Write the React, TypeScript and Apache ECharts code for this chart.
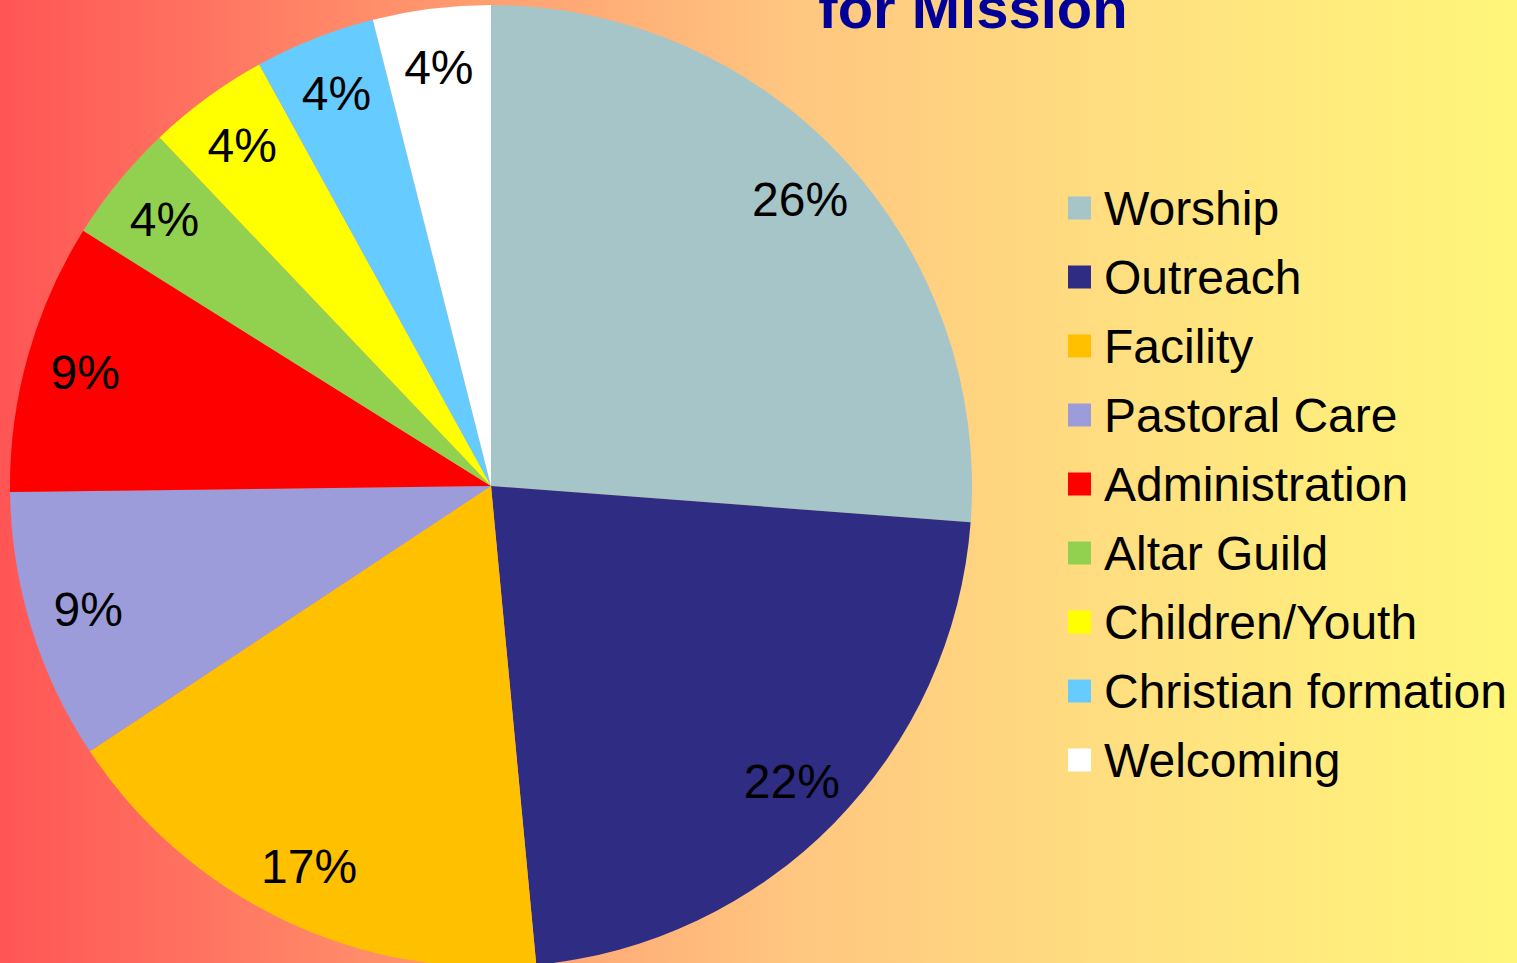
import React, { useEffect, useRef } from "react";
import * as echarts from "echarts";

const categories = [
  "Worship",
  "Outreach",
  "Facility",
  "Pastoral Care",
  "Administration",
  "Altar Guild",
  "Children/Youth",
  "Christian formation",
  "Welcoming",
];
const values = [26.2, 22.3, 17.2, 9.1, 9.1, 4.0, 4.1, 4.05, 3.95];
const colors = [
  "#A5C5C8",
  "#2E2C83",
  "#FFC000",
  "#9C9CDB",
  "#FF0000",
  "#92D050",
  "#FFFF00",
  "#66CCFF",
  "#FFFFFF",
];
const titleText = "for Mission";

const FONT = "'Liberation Sans', Arial, sans-serif";

export default function App() {
  const ref = useRef<HTMLDivElement>(null);
  useEffect(() => {
    if (!ref.current) return;
    const chart = echarts.init(ref.current, null, { renderer: "svg" });
    const data = categories.map((name, i) => ({
      name,
      value: values[i],
      itemStyle: { color: colors[i] },
    }));
    chart.setOption({
      animation: false,
      color: colors,
      graphic: [
        {
          type: "rect",
          z: -100,
          silent: true,
          shape: { x: 0, y: 0, width: 1517, height: 963 },
          style: {
            fill: new echarts.graphic.LinearGradient(0, 0, 1, 0, [
              { offset: 0, color: "#FF5555" },
              { offset: 0.3, color: "#FF9A6F" },
              { offset: 0.52, color: "#FFC680" },
              { offset: 0.76, color: "#FFE180" },
              { offset: 1, color: "#FFF67A" },
            ]),
          },
        },
        {
          type: "text",
          z: 100,
          x: 973,
          y: 7,
          style: {
            text: titleText,
            fill: "#000099",
            font: `bold 58px ${FONT}`,
            textAlign: "center",
            textVerticalAlign: "middle",
          },
        },
      ],
      legend: {
        orient: "vertical",
        left: 1068,
        top: 184,
        padding: 0,
        itemWidth: 23,
        itemHeight: 23,
        itemGap: 21,
        icon: "rect",
        selectedMode: false,
        data: categories,
        textStyle: {
          fontSize: 48,
          lineHeight: 48,
          color: "#000",
          fontFamily: FONT,
          padding: [0, 0, 0, 8],
        },
      },
      series: [
        {
          type: "pie",
          center: [491, 486],
          radius: 481,
          startAngle: 90,
          clockwise: true,
          data,
          label: { show: false },
          labelLine: { show: false },
          silent: true,
        },
        {
          type: "pie",
          center: [491, 486],
          radius: [356, 481],
          startAngle: 90,
          clockwise: true,
          data: categories.map((name, i) => ({ name, value: values[i] })),
          itemStyle: { color: "rgba(0,0,0,0)" },
          silent: true,
          legendHoverLink: false,
          label: {
            show: true,
            position: "inside",
            color: "#000",
            fontSize: 48,
            fontFamily: FONT,
            formatter: (p: any) => Math.round(p.percent) + "%",
          },
          labelLine: { show: false },
          emphasis: { disabled: true },
        },
      ],
    });
    return () => chart.dispose();
  }, []);
  return (
    <div
      ref={ref}
      style={{ position: "absolute", left: 0, top: 0, width: 1517, height: 963 }}
    />
  );
}
